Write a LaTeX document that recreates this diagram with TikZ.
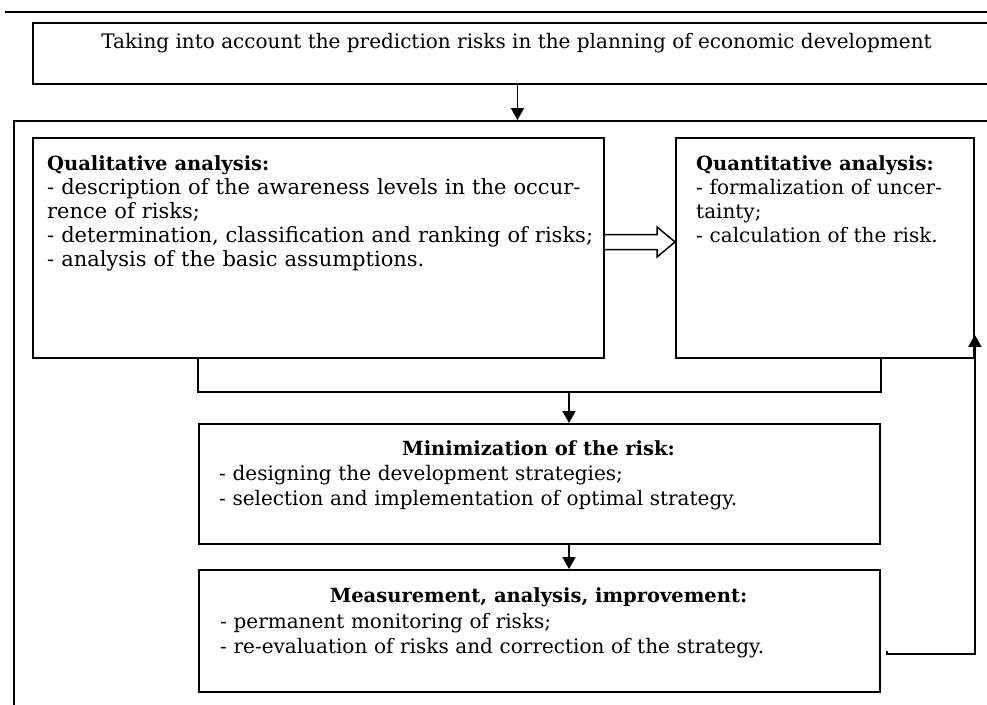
\documentclass[tikz,border=0pt]{standalone}
\usepackage{fontspec}
\setmainfont{DejaVu Serif}
\usetikzlibrary{arrows.meta,calc}
\tikzset{
  frame/.style={draw, line width=1.9pt, inner sep=0pt},
  body/.style={inner sep=0pt, align=left, font=\fontsize{20}{25}\selectfont},
  wide/.style={font=\fontsize{21}{24}\selectfont},
  tight/.style={font=\fontsize{20}{24}\selectfont},
  head/.style={inner sep=0pt, font=\fontsize{19.5}{25}\selectfont\bfseries},
  link/.style={line width=1.9pt},
  flow/.style={link, -{Triangle[length=12pt,width=13pt]}},
}
\newcommand\boxtitle[1]{{\fontsize{19.5}{24}\selectfont\bfseries #1}}
\begin{document}
\begin{tikzpicture}[x=1pt,y=-1pt]
\clip (0,0) rectangle (987,704);
\fill[white] (0,0) rectangle (987,704);
% rule above the scheme
\draw[line width=2.4pt] (5,12) -- (1001,12);

% goal box and the frame holding the analysis stages
\node[frame, anchor=north west, minimum width=969pt, minimum height=61pt] (goal) at (32,22) {};
\node[inner sep=0pt, anchor=base, font=\fontsize{20}{25}\selectfont] (goaltxt) at (516.5,48)
  {Taking into account the prediction risks in the planning of economic development};
\node[frame, anchor=north west, minimum width=988pt, minimum height=600pt] (stage) at (13,120) {};

% stage boxes
\node[frame, anchor=north west, minimum width=571pt, minimum height=220pt] (qual) at (32,137) {};
\node[frame, anchor=north west, minimum width=298pt, minimum height=220pt] (quant) at (675,137) {};
\node[frame, anchor=north west, minimum width=681pt, minimum height=120pt] (min) at (198,423) {};
\node[frame, anchor=north west, minimum width=681pt, minimum height=122pt] (meas) at (198,569) {};

% stage texts
\node[body, wide, anchor=base west, text width=565pt] (qualtxt) at (47,170)
  {\boxtitle{Qualitative analysis:}\\
   - description of the awareness levels in the occur-\\
   rence of risks;\\
   - determination, classification and ranking of risks;\\
   - analysis of the basic assumptions.};
\node[body, tight, anchor=base west, text width=280pt] (quanttxt) at (696,170)
  {\boxtitle{Quantitative analysis:}\\
   - formalization of uncer-\\
   tainty;\\
   - calculation of the risk.};
\node[head, anchor=base] (mintitle) at (538.5,455) {Minimization of the risk:};
\node[body, anchor=base west, text width=640pt] (mintxt) at (219,480)
  {- designing the development strategies;\\
   - selection and implementation of optimal strategy.};
\node[head, anchor=base] (meastitle) at (538.5,602) {Measurement, analysis, improvement:};
\node[body, anchor=base west, text width=640pt] (meastxt) at (220,628)
  {- permanent monitoring of risks;\\
   - re-evaluation of risks and correction of the strategy.};

% connectors
\coordinate (hy) at (0,242);
\coordinate (join) at (0,392);
\coordinate (spine) at (569,0);
\coordinate (fb) at (887,654);

\draw[flow] (goal.south) -- (goal.south |- stage.north);

% hollow arrow from qualitative to quantitative analysis
\draw[line width=1.5pt, line join=miter, fill=white]
  ($(qual.east |- hy)+(0,-7.5)$) -- ($(quant.west |- hy)+(-18,-7.5)$)
  -- ($(quant.west |- hy)+(-18,-15)$) -- (quant.west |- hy)
  -- ($(quant.west |- hy)+(-18,15)$) -- ($(quant.west |- hy)+(-18,7.5)$)
  -- ($(qual.east |- hy)+(0,7.5)$);

\draw[link] (qual.south -| min.west) -- (join -| min.west) -- (join -| min.east) -- (quant.south -| min.east);
\draw[flow] (join -| spine) -- (min.north -| spine);
\draw[flow] (min.south -| spine) -- (meas.north -| spine);
\draw[flow] ($(fb)+(0,-3)$) -- (fb) -- (fb -| quant.east) -- ($(quant.south east)+(0,-24)$);
\end{tikzpicture}
\end{document}
